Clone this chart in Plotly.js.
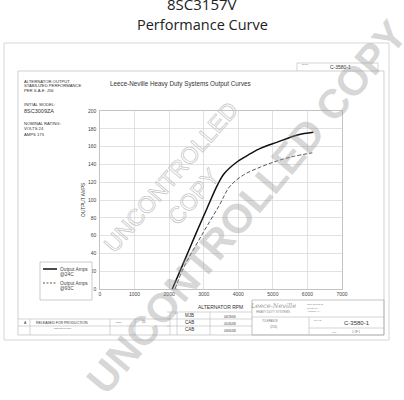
<!DOCTYPE html>
<html>
<head>
<meta charset="utf-8">
<script src="https://cdn.plot.ly/plotly-3.0.1.min.js"></script>
<style>
html,body{margin:0;padding:0;background:#fff;}
#chart{width:404px;height:400px;}
.annotation[data-index="0"] .annotation-text{fill:none !important;stroke:#c4c4c4;stroke-width:0.7px;}
</style>
</head>
<body>
<div id="chart"></div>
<script>
// ---- data ----
var rpm24 = [2090, 2400, 2750, 3100, 3400, 3600, 3970, 4350, 4640, 5130, 5710, 6170];
var amps24 = [0, 28, 60, 91, 117, 130, 143, 152, 158, 165, 173, 176];
var rpm93 = [2170, 2420, 2950, 3450, 3750, 4145, 4640, 5130, 5600, 6140];
var amps93 = [0, 24, 61, 94, 115, 128, 137, 144, 149, 153];
var seriesNames = ["Output Amps<br>@24C", "Output Amps<br>@93C"];
var xTicks = [0, 1000, 2000, 3000, 4000, 5000, 6000, 7000];
var yTicks = [0, 20, 40, 60, 80, 100, 120, 140, 160, 180, 200];

// ---- page geometry helpers (pixel -> paper) ----
var L = 100, R = 62, T = 111, B = 111, W = 404, H = 400;
var PW = W - L - R, PH = H - T - B;
function px(x){ return (x - L) / PW; }
function py(y){ return (H - B - y) / PH; }

var styles = [
  {color: '#111', width: 1.5},
  {color: '#444', width: 0.9, dash: '4px,2px'}
];

var traces = [
  {x: rpm24, y: amps24, name: seriesNames[0], mode: 'lines',
   line: Object.assign({shape: 'spline'}, styles[0])},
  {x: rpm93, y: amps93, name: seriesNames[1], mode: 'lines',
   line: Object.assign({shape: 'spline'}, styles[1])}
];

var shapes = [];
function rect(x0,y0,x1,y1,c,w){ shapes.push({type:'rect',xref:'paper',yref:'paper',x0:px(x0),x1:px(x1),y0:py(y0),y1:py(y1),line:{color:c||'#bbb',width:w||0.8}}); }
function seg(x0,y0,x1,y1,c,w,dash){ shapes.push({type:'line',xref:'paper',yref:'paper',x0:px(x0),x1:px(x1),y0:py(y0),y1:py(y1),line:{color:c||'#bbb',width:w||0.6,dash:dash}}); }

rect(4,43,389,340,'#ccc',0.8);
rect(18,71,384,335,'#bbb',0.7);
// top-right drawing number box
seg(297,63,378,63); seg(297,63,297,71); seg(378,63,378,71);
// title block - right
rect(252,300,384,335,'#aaa',0.7);
seg(252,317,384,317); seg(309,317,309,335); seg(309,328,384,328);
// title block - middle
seg(167,312,252,312); seg(167,319,252,319); seg(167,326,252,326);
seg(170,312,170,335); seg(177,312,177,335); seg(210,312,210,335);
// title block - left
seg(18,319,170,319); seg(18,326,170,326);
seg(30,319,30,335); seg(110,319,110,335); seg(135,319,135,335);

// legend box (manual)
shapes.push({type:'rect',xref:'paper',yref:'paper',x0:px(40),x1:px(92),y0:py(262),y1:py(300),
  line:{color:'#aaa',width:0.6},fillcolor:'#fff',layer:'above'});

var ann = [];
function txt(x,y,t,size,opt){
  opt = opt || {};
  ann.push({xref:'paper',yref:'paper',x:px(x),y:py(y),text:t,showarrow:false,
    xanchor:opt.xa||'left',yanchor:opt.ya||'middle',textangle:opt.angle||0,align:opt.align||'left',
    font:{family:opt.family||'Liberation Sans, Arial, sans-serif',size:size,color:opt.color||'#333'}});
}
// 0: outlined small watermark (styled by CSS)
txt(182,187,'UNCONTROLLED<br>COPY',23,{xa:'center',angle:-49,align:'center',color:'#ccc'});

// legend entries
var legY = [269, 283];
for (var i = 0; i < seriesNames.length; i++) {
  seg(43, legY[i], 57, legY[i], styles[i].color, styles[i].width, styles[i].dash ? '2px,1.5px' : undefined);
  shapes[shapes.length-1].layer = 'above';
  var parts = seriesNames[i].split('<br>');
  for (var j = 0; j < parts.length; j++) txt(58, legY[i] + j * 5, parts[j], 4.8, {color:'#444'});
}

// headings
txt(202,4,'8SC3157V',15,{xa:'center',family:'Open Sans, sans-serif',color:'#222'});
txt(202,25,'Performance Curve',14.5,{xa:'center',family:'Open Sans, sans-serif',color:'#222'});
txt(180,84,'Leece-Neville Heavy Duty Systems Output Curves',6.3,{xa:'center',color:'#333'});
// left notes
txt(22,81,'ALTERNATOR OUTPUT',4.2);
txt(22,85.5,'STABILIZED PERFORMANCE',4.2);
txt(22,90,'PER S.A.E. J56',4.2);
txt(22,104,'INITIAL MODEL:',4.2);
txt(22,111,'8SC3009ZA',5.5);
txt(22,123,'NOMINAL RATING:',4.2);
txt(22,128.5,'VOLTS 24',4.2);
txt(22,134,'AMPS 175',4.2);
// axis titles
txt(83,200,'OUTPUT AMPS',4.8,{xa:'center',angle:-90});
txt(220,306.5,'ALTERNATOR RPM',5,{xa:'center'});
// top-right box
txt(300,64.5,'DWG',2.5,{color:'#777'});
txt(340,67,'C-3580-1',5,{xa:'center'});
// title block text
txt(22,323,'A',3.5);
txt(62,323,'RELEASED FOR PRODUCTION',3.5,{xa:'center'});
txt(62,328.5,'DESCRIPTION',2.5,{xa:'center',color:'#777'});
txt(118,322,'ECN',2.5,{xa:'center',color:'#777'});
txt(140,322,'12',3,{color:'#555'});
txt(173,313,'BY',2.2,{color:'#777'});
txt(183,315.5,'MJB',4.5);
txt(183,322.5,'CAB',4.5);
txt(183,329.5,'CAB',4.5);
txt(222,316.5,'04/19/06',3);
txt(222,323.5,'01/05/08',3);
txt(222,330.5,'03/05/08',3);
txt(273,306,'<i>Leece-Neville</i>',6.5,{xa:'center',family:'DejaVu Serif, serif',color:'#999'});
txt(273,312,'HEAVY DUTY SYSTEMS',3,{xa:'center',color:'#888'});
txt(305,304,'3250 ROUTE 35',2.2,{color:'#888'});
txt(305,307.5,'SUITE 100',2.2,{color:'#888'});
txt(305,311,'ARNOLD, PA',2.2,{color:'#888'});
txt(270,321,'TOLERANCE',2.6,{xa:'center',color:'#777'});
txt(273,327,'(2/16)',2.8,{xa:'center',color:'#777'});
txt(312,319.5,'SCALE',2.2,{color:'#888'});
txt(357,323,'C-3580-1',6,{xa:'center'});
txt(330,331.5,'SHT',2.2,{color:'#888'});
txt(350,331.5,'1 OF 1',2.6,{color:'#666'});

// big watermark
txt(247,207,'<b>UNCONTROLLED COPY</b>',41,{xa:'center',angle:-50,family:'Liberation Sans, Arial, sans-serif',color:'rgba(150,150,150,0.38)'});

var axisCommon = {showgrid:true, gridcolor:'#cfcfcf', gridwidth:0.6, zeroline:false,
  showline:true, mirror:true, linecolor:'#aaa', linewidth:0.7, ticks:'',
  tickfont:{family:'Liberation Sans, Arial, sans-serif', size:5, color:'#444'}};

var layout = {
  width: W, height: H,
  margin: {l: L, r: R, t: T, b: B, pad: 0},
  paper_bgcolor: '#fff', plot_bgcolor: '#fff',
  showlegend: false,
  xaxis: Object.assign({}, axisCommon, {range: [0, 7000], tickvals: xTicks, ticktext: xTicks.map(String)}),
  yaxis: Object.assign({}, axisCommon, {range: [0, 200], tickvals: yTicks, ticktext: yTicks.map(String), ticklabelstandoff: 2}),
  shapes: shapes,
  annotations: ann
};

Plotly.newPlot('chart', traces, layout, {displayModeBar: false, staticPlot: true});
</script>
</body>
</html>
